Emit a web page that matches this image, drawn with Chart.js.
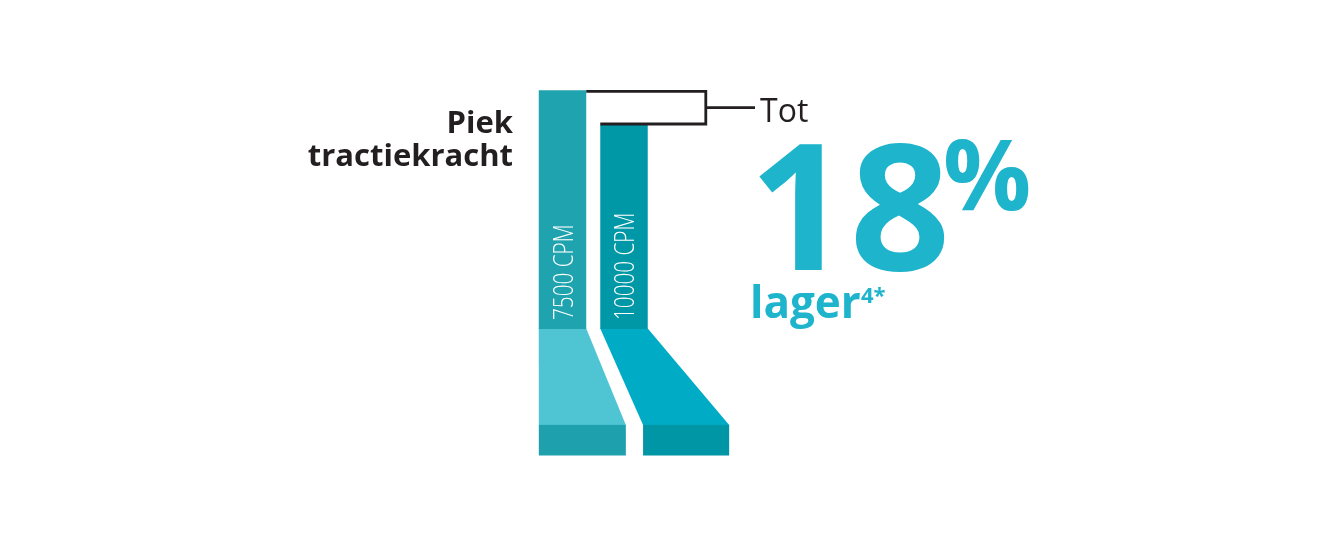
<!DOCTYPE html>
<html>
<head>
<meta charset="utf-8">
<script src="https://cdn.jsdelivr.net/npm/chart.js@4.4.1/dist/chart.umd.min.js"></script>
<style>
  html, body { margin: 0; padding: 0; background: #fff; }
  #wrap { position: relative; width: 1340px; height: 554px; }
</style>
</head>
<body>
<div id="wrap"><canvas id="chart"></canvas></div>
<script>
// --- data ---
const speeds = ['7500 CPM', '10000 CPM'];
const peakTraction = [117, 100];   // relative peak traction, 10000 CPM = 100
const bendLevel = -47;             // foot: end of the sloped part
const baseLevel = -62;             // foot: bottom
const footLeft = [-0.385, 1.31];   // x values of the foot bottom
const footRight = [1.03, 2.71];
const gainWords = ['Tot', '18', '%', 'lager', '4*'];
const titleLines = ['Piek', 'tractiekracht'];

// --- styles ---
const stemColors = ['#1fa3ae', '#0097a6'];
const bendColors = ['#4fc5d4', '#00acc5'];
const baseColors = ['#1fa1ad', '#0096a5'];
const dark = '#231f20';
const cyan = '#1db4cc';

const feetPlugin = {
    id: 'feet',
    beforeDatasetsDraw(chart) {
        const { ctx, scales: { x, y } } = chart;
        const y0 = y.getPixelForValue(0);
        const y1 = y.getPixelForValue(bendLevel);
        const y2 = y.getPixelForValue(baseLevel);
        chart.getDatasetMeta(0).data.forEach((bar, i) => {
            const l = bar.x - bar.width / 2, r = bar.x + bar.width / 2;
            const bl = x.getPixelForValue(footLeft[i]);
            const br = x.getPixelForValue(footRight[i]);
            ctx.save();
            ctx.fillStyle = bendColors[i];
            ctx.beginPath();
            ctx.moveTo(l, y0 - 0.5);
            ctx.lineTo(r, y0 - 0.5);
            ctx.lineTo(br, y1);
            ctx.lineTo(bl, y1);
            ctx.closePath();
            ctx.fill();
            ctx.fillStyle = baseColors[i];
            ctx.fillRect(bl, y1, br - bl, y2 - y1);
            ctx.restore();
        });
    }
};

const textPlugin = {
    id: 'texts',
    afterDraw(chart) {
        const { ctx, scales: { x, y } } = chart;
        const bars = chart.getDatasetMeta(0).data;
        const y0 = y.getPixelForValue(0);
        ctx.save();

        // title on the left
        ctx.fillStyle = dark;
        ctx.font = 'bold 31px "Open Sans"';
        ctx.textAlign = 'right';
        ctx.textBaseline = 'alphabetic';
        ctx.fillText(titleLines[0], 513, 133);
        ctx.fillText(titleLines[1], 513, 166);

        // rotated labels inside the stems
        ctx.fillStyle = '#ffffff';
        ctx.textAlign = 'left';
        ctx.font = '300 28px "Open Sans"';
        bars.forEach((bar, i) => {
            ctx.save();
            ctx.translate(bar.x + 10, y0 - 9);
            ctx.rotate(-Math.PI / 2);
            ctx.scale(0.74, 1);
            ctx.fillText(speeds[i], 0, 0);
            ctx.restore();
        });

        // bracket between the two tops
        const b1 = bars[0], b2 = bars[1];
        const xr = x.getPixelForValue(2.33);
        const xt = x.getPixelForValue(3.13);
        const mid = (b1.y + b2.y) / 2;
        ctx.strokeStyle = dark;
        ctx.lineWidth = 2.8;
        ctx.beginPath();
        ctx.moveTo(b1.x + b1.width / 2, b1.y + 1);
        ctx.lineTo(xr, b1.y + 1);
        ctx.lineTo(xr, b2.y - 1);
        ctx.lineTo(b2.x - b2.width / 2, b2.y - 1);
        ctx.moveTo(xr, mid);
        ctx.lineTo(xt, mid);
        ctx.stroke();

        // gain text
        ctx.fillStyle = dark;
        ctx.font = '32px "Open Sans"';
        ctx.fillText(gainWords[0], 760, 122);
        ctx.fillStyle = cyan;
        ctx.font = 'bold 176px "Open Sans"';
        ctx.fillText(gainWords[1], 749, 270);
        ctx.font = 'bold 98px "Open Sans"';
        ctx.fillText(gainWords[2], 943, 210);
        ctx.font = 'bold 44px "Open Sans"';
        ctx.fillText(gainWords[3], 750, 318);
        ctx.font = 'bold 22px "Open Sans"';
        ctx.fillText(gainWords[4], 861, 303);
        ctx.restore();
    }
};

new Chart(document.getElementById('chart'), {
    type: 'bar',
    data: {
        labels: speeds,
        datasets: [{
            data: peakTraction,
            backgroundColor: stemColors,
            borderWidth: 0,
            barPercentage: 0.772,
            categoryPercentage: 1
        }]
    },
    options: {
        responsive: true,
        maintainAspectRatio: false,
        animation: false,
        layout: { padding: { left: 531.75, right: 685.25, top: 49.5, bottom: 98.5 } },
        plugins: { legend: { display: false }, tooltip: { enabled: false } },
        scales: {
            x: { display: false },
            y: { display: false, min: -62, max: 137 }
        }
    },
    plugins: [feetPlugin, textPlugin]
});
</script>
</body>
</html>
